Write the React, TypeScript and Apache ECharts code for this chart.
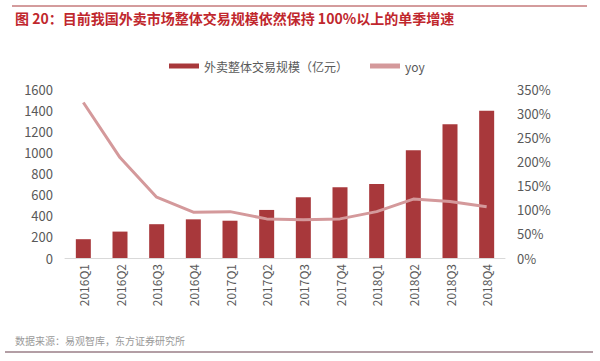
import React, { useEffect, useRef } from "react";
import * as echarts from "echarts";

const categories = ["2016Q1", "2016Q2", "2016Q3", "2016Q4", "2017Q1", "2017Q2", "2017Q3", "2017Q4", "2018Q1", "2018Q2", "2018Q3", "2018Q4"];
const scaleValues = [178, 250, 320, 366, 353, 455, 575, 670, 700, 1020, 1266, 1395];
const yoyValues = [322, 208, 126, 95, 96, 81, 79, 81, 96, 122, 117, 106];
const leftTicks = { min: 0, max: 1600, interval: 200 };
const rightTicks = { min: 0, max: 350, interval: 50 };
const titleText = "图 20：目前我国外卖市场整体交易规模依然保持 100%以上的单季增速";
const sourceText = "数据来源：易观智库，东方证券研究所";
const barName = "外卖整体交易规模（亿元）";
const lineName = "yoy";

const FONT = "'Noto Sans CJK SC', 'Noto Sans', sans-serif";

export default function App() {
  const ref = useRef<HTMLDivElement>(null);
  useEffect(() => {
    if (!ref.current) return;
    const chart = echarts.init(ref.current, undefined, { renderer: "svg" });
    chart.setOption({
      animation: false,
      backgroundColor: "#ffffff",
      textStyle: { fontFamily: FONT },
      graphic: [
        { type: "line", shape: { x1: 12, y1: 6, x2: 587, y2: 6 }, style: { stroke: "#a8383b", lineWidth: 1 } },
        {
          type: "text", x: 15, y: 18,
          style: { text: titleText, font: `bold 14px ${FONT}`, fill: "#c0272d", verticalAlign: "middle" },
        },
        {
          type: "text", x: 15, y: 340,
          style: { text: sourceText, font: `10px ${FONT}`, fill: "#9a9a9a", verticalAlign: "middle" },
        },
        { type: "line", shape: { x1: 5, y1: 352, x2: 593, y2: 352 }, style: { stroke: "#b39ea5", lineWidth: 2 } },
      ],
      legend: {
        left: 164,
        top: 55,
        itemGap: 22,
        itemWidth: 30,
        itemHeight: 5,
        textStyle: { fontSize: 12, color: "#595959", fontFamily: FONT },
        data: [
          { name: barName, icon: "rect" },
          { name: lineName, icon: "rect", itemStyle: { color: "#d4999b" } },
        ],
      },
      grid: { left: 65, right: 95, top: 89, bottom: 103 },
      xAxis: {
        type: "category",
        data: categories,
        axisLine: { lineStyle: { color: "#d9d9d9", width: 1 } },
        axisTick: { show: false },
        axisLabel: { rotate: 90, margin: 6, fontSize: 12, color: "#595959", fontFamily: FONT },
      },
      yAxis: [
        {
          type: "value", ...leftTicks,
          splitLine: { show: false },
          axisLine: { show: false },
          axisTick: { show: false },
          axisLabel: { margin: 12, fontSize: 13, color: "#595959", fontFamily: FONT, formatter: (v: number) => String(v) },
        },
        {
          type: "value", ...rightTicks,
          splitLine: { show: false },
          axisLine: { show: false },
          axisTick: { show: false },
          axisLabel: { margin: 12, fontSize: 13, color: "#595959", fontFamily: FONT, formatter: "{value}%" },
        },
      ],
      series: [
        {
          name: barName,
          type: "bar",
          data: scaleValues,
          barWidth: 15,
          itemStyle: { color: "#a8383b" },
        },
        {
          name: lineName,
          type: "line",
          yAxisIndex: 1,
          data: yoyValues,
          symbol: "none",
          lineStyle: { color: "#d4999b", width: 3 },
          itemStyle: { color: "#d4999b" },
        },
      ],
    });
    return () => chart.dispose();
  }, []);
  return <div ref={ref} style={{ width: 600, height: 361, position: "absolute", left: 0, top: 0 }} />;
}
